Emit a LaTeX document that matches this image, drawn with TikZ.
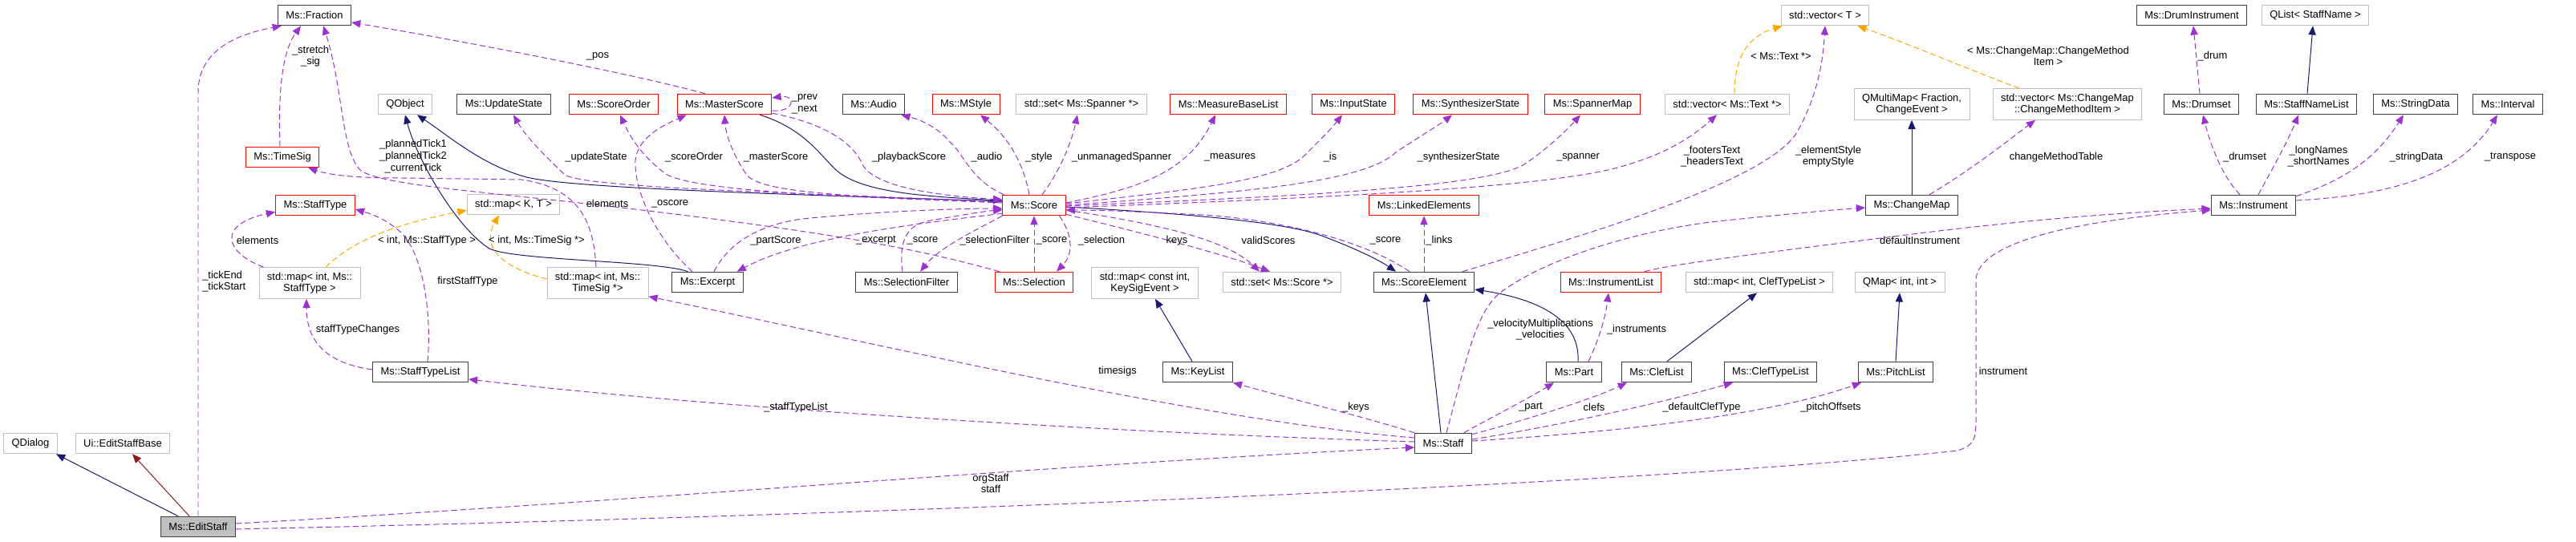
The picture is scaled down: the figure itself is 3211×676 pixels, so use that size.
\documentclass[tikz,border=0pt]{standalone}
\usepackage{fontspec}
\setmainfont{Liberation Sans}
\usetikzlibrary{calc, arrows.meta, positioning}
\definecolor{usepurple}{HTML}{9A32CD}
\definecolor{inhnavy}{HTML}{191970}
\definecolor{tmplorange}{HTML}{FFA500}
\definecolor{privred}{HTML}{8B1A1A}
\definecolor{boxgrey}{HTML}{BFBFBF}
\definecolor{boxdark}{HTML}{404040}

\begin{document}
\begin{tikzpicture}[x=0.25mm, y=-0.25mm,
  every node/.style={font=\fontsize{9.2}{10.4}\selectfont},
  box/.style={rectangle, draw, fill=white, line width=0.7pt, inner xsep=2.5mm, inner ysep=1.5mm, minimum height=6.4mm, align=center},
  cls/.style={box, draw=boxdark},
  trunc/.style={box, draw=red},
  ext/.style={box, draw=boxgrey},
  lbl/.style={inner sep=0pt, align=center},
  member/.style={draw=usepurple, line width=0.7pt, dash pattern=on 1.8mm off 1mm, -{Triangle[length=2.8mm, width=2.3mm]}},
  inherit/.style={draw=inhnavy, line width=0.7pt, -{Triangle[length=2.8mm, width=2.3mm]}},
  privinh/.style={draw=privred, line width=0.7pt, -{Triangle[length=2.8mm, width=2.3mm]}},
  templ/.style={draw=tmplorange, line width=0.7pt, dash pattern=on 1.8mm off 1mm, -{Triangle[length=2.8mm, width=2.3mm]}}
]
\useasboundingbox (0,0) rectangle (3211,676);

% classes
\node[cls] (Fraction) at (392,19) {Ms::Fraction};
\node[ext] (QObject) at (505,130) {QObject};
\node[trunc] (TimeSig) at (352,196) {Ms::TimeSig};
\node[trunc] (StaffType) at (393,256) {Ms::StaffType};
\node[ext] (MapStaffType) at (386,353) {std::map< int, Ms::\\StaffType >};
\node[cls] (UpdateState) at (628,130) {Ms::UpdateState};
\node[trunc] (ScoreOrder) at (765,130) {Ms::ScoreOrder};
\node[trunc] (MasterScore) at (903,130) {Ms::MasterScore};
\node[cls] (Audio) at (1089,130) {Ms::Audio};
\node[ext] (MapKT) at (640,255) {std::map< K, T >};
\node[ext] (MapTimeSig) at (745,353) {std::map< int, Ms::\\TimeSig *>};
\node[cls] (Excerpt) at (882,352) {Ms::Excerpt};
\node[trunc] (MStyle) at (1204,130) {Ms::MStyle};
\node[ext] (SetSpanner) at (1348,130) {std::set< Ms::Spanner *>};
\node[trunc] (MeasureBaseList) at (1531,130) {Ms::MeasureBaseList};
\node[trunc] (Score) at (1289,256) {Ms::Score};
\node[cls] (SelectionFilter) at (1130,352) {Ms::SelectionFilter};
\node[trunc] (Selection) at (1289,352) {Ms::Selection};
\node[ext] (MapKeySig) at (1427,353) {std::map< const int,\\KeySigEvent >};
\node[ext] (SetScore) at (1598,352) {std::set< Ms::Score *>};
\node[trunc] (InputState) at (1687,130) {Ms::InputState};
\node[trunc] (SynthState) at (1833,130) {Ms::SynthesizerState};
\node[trunc] (SpannerMap) at (1985,130) {Ms::SpannerMap};
\node[ext] (VecText) at (2153,130) {std::vector< Ms::Text *>};
\node[trunc] (LinkedElements) at (1775,256) {Ms::LinkedElements};
\node[cls] (ScoreElement) at (1775,352) {Ms::ScoreElement};
\node[ext] (VecT) at (2275,19) {std::vector< T >};
\node[ext] (MultiMap) at (2383,130) {QMultiMap< Fraction,\\ChangeEvent >};
\node[ext] (VecMethod) at (2577,130) {std::vector< Ms::ChangeMap\\::ChangeMethodItem >};
\node[cls] (ChangeMap) at (2383,256) {Ms::ChangeMap};
\node[cls] (DrumInstrument) at (2732,19) {Ms::DrumInstrument};
\node[ext] (QListName) at (2886,19) {QList< StaffName >};
\node[cls] (Drumset) at (2744,130) {Ms::Drumset};
\node[cls] (StaffNameList) at (2875,130) {Ms::StaffNameList};
\node[cls] (StringData) at (3011,130) {Ms::StringData};
\node[cls] (Interval) at (3126,130) {Ms::Interval};
\node[cls] (Instrument) at (2809,256) {Ms::Instrument};
\node[ext] (QDialog) at (38,553) {QDialog};
\node[ext] (EditStaffBase) at (153,553) {Ui::EditStaffBase};
\node[cls, fill=boxgrey] (EditStaff) at (247,657) {Ms::EditStaff};
\node[cls] (StaffTypeList) at (524,464) {Ms::StaffTypeList};
\node[cls] (Staff) at (1799,553) {Ms::Staff};
\node[cls] (Part) at (1962,464) {Ms::Part};
\node[trunc] (InstrumentList) at (2008,352) {Ms::InstrumentList};
\node[cls] (ClefList) at (2065,464) {Ms::ClefList};
\node[ext] (MapClef) at (2193,352) {std::map< int, ClefTypeList >};
\node[ext] (QMapInt) at (2368,352) {QMap< int, int >};
\node[cls] (ClefTypeList) at (2207,464) {Ms::ClefTypeList};
\node[cls] (PitchList) at (2363,464) {Ms::PitchList};
\node[cls] (KeyList) at (1493,464) {Ms::KeyList};

% inheritance
\draw[inherit] ($(EditStaff.north)+(-25,0)$) -- ($(QDialog.south)+(32,0)$);
\draw[privinh] ($(EditStaff.north)+(-11,0)$) -- ($(EditStaffBase.south)+(12,0)$);
\draw[inherit] ($(Excerpt.north west)+(20,0)$) .. controls (820,325) and (640,325) .. (610,310)
  .. controls (570,285) and (520,200) .. (QObject.south);
\draw[inherit] ($(Score.west)+(0,-5)$) .. controls (1000,243) and (700,235) .. (653,220)
  .. controls (600,205) and (560,170) .. ($(QObject.south)+(15,0)$);
\draw[inherit] ($(MasterScore.south east)+(-15,0)$) .. controls (1000,160) and (1020,190) .. (1040,210)
  .. controls (1070,240) and (1150,245) .. ($(Score.west)+(0,-6)$);
\draw[inherit] ($(Score.east)+(0,2)$) .. controls (1450,265) and (1600,275) .. (1650,295)
  .. controls (1690,310) and (1720,325) .. ($(ScoreElement.north)+(-35,0)$);
\draw[inherit] ($(Staff.north)+(-3,0)$) -- ($(ScoreElement.south)+(2,0)$);
\draw[inherit] ($(Part.north)+(5,0)$) .. controls (1970,395) and (1910,372) .. ($(ScoreElement.east)+(0,9)$);
\draw[inherit] ($(KeyList.north)+(-7,0)$) -- ($(MapKeySig.south)+(13,0)$);
\draw[inherit] ($(ClefList.north)+(13,0)$) -- ($(MapClef.south)+(-3,0)$);
\draw[inherit] (PitchList.north) -- (QMapInt.south);
\draw[inherit] (ChangeMap.north) -- (MultiMap.south);
\draw[inherit] ($(StaffNameList.north)+(1,0)$) -- ($(QListName.south)+(-3,0)$);

% template instances
\draw[templ] ($(MapStaffType.north)+(20,0)$) .. controls (440,300) and (490,280) .. ($(MapKT.south west)+(0,-6)$);
\draw[templ] ($(MapTimeSig.west)+(0,-5)$) .. controls (630,335) and (598,310) .. ($(MapKT.south)+(-18,0)$);
\draw[templ] ($(VecText.north)+(9,0)$) .. controls (2162,70) and (2180,45) .. ($(VecT.south west)+(2,0)$);
\draw[templ] ($(VecMethod.north)+(-60,0)$) .. controls (2450,85) and (2380,55) .. ($(VecT.south east)+(-15,0)$);
\node[lbl] (lStaffTypeArg) at (532,300) {< int, Ms::StaffType >};
\node[lbl] (lTimeSigArg) at (669,300) {< int, Ms::TimeSig *>};
\node[lbl] (lTextArg) at (2220,70) {< Ms::Text *>};
\node[lbl] (lMethodArg) at (2553,70) {< Ms::ChangeMap::ChangeMethod\\Item >};

% members
\draw[member] (EditStaff.north) -- (247,115) .. controls (247,60) and (300,42) .. ($(Fraction.south west)+(5,0)$);
\node[lbl, anchor=west, align=left] (lTick) at (252,351) {\_tickEnd\\\_tickStart};
\draw[member] ($(TimeSig.north)+(-3,0)$) .. controls (346,100) and (355,60) .. ($(Fraction.south)+(-17,0)$);
\node[lbl] (lStretch) at (387,70) {\_stretch\\\_sig};
\draw[member] ($(Selection.north west)+(6,0)$) .. controls (1150,312) and (1050,292) .. (800,262)
  .. controls (600,238) and (480,232) .. (450,213) .. controls (425,190) and (428,110) .. ($(Fraction.south)+(11,0)$);
\node[lbl] (lPlanned) at (515,195) {\_plannedTick1\\\_plannedTick2\\\_currentTick};
\draw[member] ($(MapTimeSig.north)+(-2,0)$) .. controls (740,280) and (725,235) .. (650,224)
  -- (500,222) .. controls (440,222) and (410,218) .. ($(TimeSig.south east)+(-14,0)$);
\node[lbl] (lElemTime) at (757,254) {elements};
\draw[member] ($(MapStaffType.north west)+(6,0)$) .. controls (280,315) and (270,280) .. ($(StaffType.south west)+(0,-5)$);
\node[lbl] (lElemStaff) at (321,300) {elements};
\draw[member] ($(MasterScore.north west)+(35,0)$) .. controls (800,95) and (600,55) .. ($(Fraction.east)+(0,9)$);
\node[lbl] (lPos) at (745,70) {\_pos};
\draw[member] ($(Score.west)+(0,-4)$) .. controls (1000,240) and (720,235) .. (703,217)
  .. controls (680,195) and (655,170) .. ($(UpdateState.south)+(12,0)$);
\node[lbl] (lUpdate) at (743,196) {\_updateState};
\draw[member] ($(Score.west)+(0,-4)$) .. controls (1000,245) and (860,235) .. (830,217)
  .. controls (800,195) and (785,170) .. ($(ScoreOrder.south)+(8,0)$);
\node[lbl] (lOrder) at (865,196) {\_scoreOrder};
\draw[member] ($(Score.west)+(0,-3)$) .. controls (1050,245) and (945,240) .. (930,217)
  .. controls (915,195) and (905,170) .. (MasterScore.south);
\node[lbl] (lMaster) at (967,196) {\_masterScore};
\draw[member] ($(MasterScore.east)+(0,8)$) .. controls (992,140) and (992,118) .. ($(MasterScore.east)+(0,-8)$);
\node[lbl] (lPrev) at (1003,130) {\_prev\\\_next};
\draw[member] ($(MasterScore.south east)+(0,-2)$) .. controls (1010,150) and (1060,170) .. (1075,205)
  .. controls (1090,235) and (1180,245) .. ($(Score.west)+(0,-7)$);
\node[lbl] (lPlayback) at (1133,196) {\_playbackScore};
\draw[member] ($(Score.north west)+(2,0)$) .. controls (1210,225) and (1200,190) .. (1185,178)
  .. controls (1170,160) and (1150,150) .. ($(Audio.south east)+(-5,0)$);
\node[lbl] (lAudio) at (1230,196) {\_audio};
\draw[member] ($(Score.north)+(-6,0)$) .. controls (1275,200) and (1255,170) .. ($(MStyle.south)+(18,0)$);
\node[lbl] (lStyle) at (1295,196) {\_style};
\draw[member] ($(Score.north)+(10,0)$) .. controls (1320,215) and (1335,180) .. ($(SetSpanner.south)+(-5,0)$);
\node[lbl] (lUnmanaged) at (1398,196) {\_unmanagedSpanner};
\draw[member] ($(Score.east)+(0,-3)$) .. controls (1420,235) and (1480,215) .. ($(MeasureBaseList.south)+(-16,0)$);
\node[lbl] (lMeasures) at (1533,196) {\_measures};
\draw[member] ($(Score.east)+(0,-2)$) .. controls (1500,235) and (1600,225) .. (1630,190)
  .. controls (1650,170) and (1660,160) .. ($(InputState.south)+(-14,0)$);
\node[lbl] (lIs) at (1658,196) {\_is};
\draw[member] (Score.east) .. controls (1550,240) and (1700,228) .. (1740,190)
  .. controls (1770,170) and (1795,155) .. ($(SynthState.south)+(-23,0)$);
\node[lbl] (lSynth) at (1818,196) {\_synthesizerState};
\draw[member] ($(Score.east)+(0,1)$) .. controls (1600,245) and (1850,235) .. (1900,205)
  .. controls (1930,185) and (1955,160) .. ($(SpannerMap.south)+(-15,0)$);
\node[lbl] (lSpanner) at (1967,196) {\_spanner};
\draw[member] ($(Score.east)+(0,3)$) .. controls (1700,245) and (1950,232) .. (2030,205)
  .. controls (2080,190) and (2110,170) .. ($(VecText.south)+(-13,0)$);
\node[lbl] (lFooters) at (2134,195) {\_footersText\\\_headersText};
\draw[member] ($(ScoreElement.north)+(48,0)$) .. controls (1950,300) and (2200,230) .. (2240,165)
  .. controls (2265,120) and (2272,80) .. (VecT.south);
\node[lbl] (lElemStyle) at (2279,195) {\_elementStyle\\emptyStyle};
\draw[member] ($(ChangeMap.north)+(22,0)$) .. controls (2460,210) and (2510,170) .. ($(VecMethod.south)+(-40,0)$);
\node[lbl] (lMethodTable) at (2563,196) {changeMethodTable};
\draw[member] ($(Staff.north)+(4,0)$) .. controls (1830,440) and (1840,390) .. (1870,365)
  .. controls (1930,320) and (2050,285) .. (2150,275) .. controls (2220,268) and (2280,262) .. ($(ChangeMap.west)+(0,3)$);
\node[lbl] (lVelocity) at (1920,411) {\_velocityMultiplications\\\_velocities};
\draw[member] ($(InstrumentList.north)+(42,0)$) .. controls (2080,330) and (2200,315) .. (2400,290)
  .. controls (2550,272) and (2650,265) .. ($(Instrument.west)+(0,4)$);
\node[lbl] (lDefaultInstr) at (2393,300) {defaultInstrument};
\draw[member] ($(EditStaff.east)+(0,3)$) .. controls (1200,640) and (2100,600) .. (2440,562)
  .. controls (2463,555) and (2463,545) .. (2463,520) -- (2463,350)
  .. controls (2463,310) and (2550,278) .. ($(Instrument.west)+(0,6)$);
\node[lbl] (lInstrument) at (2497,463) {instrument};
\draw[member] ($(EditStaff.east)+(0,-4)$) .. controls (800,625) and (1300,580) .. ($(Staff.west)+(0,5)$);
\node[lbl] (lOrgStaff) at (1235,603) {orgStaff\\staff};
\draw[member] (Staff.north west) .. controls (1700,520) and (1600,495) .. (KeyList.south east);
\node[lbl] (lKeys) at (1690,508) {\_keys};
\draw[member] ($(Staff.west)+(0,-7)$) .. controls (1500,525) and (1100,430) .. ($(MapTimeSig.south east)+(0,-3)$);
\node[lbl] (lTimesigs) at (1393,463) {timesigs};
\draw[member] ($(Staff.west)+(0,-2)$) .. controls (1400,540) and (900,510) .. ($(StaffTypeList.east)+(0,9)$);
\node[lbl] (lStaffTypeList) at (992,508) {\_staffTypeList};
\draw[member] ($(StaffTypeList.north)+(9,0)$) .. controls (538,400) and (530,320) .. (500,290)
  .. controls (480,272) and (460,266) .. ($(StaffType.east)+(0,5)$);
\node[lbl] (lFirstType) at (583,351) {firstStaffType};
\draw[member] ($(StaffTypeList.west)+(0,-3)$) .. controls (400,452) and (382,420) .. ($(MapStaffType.south)+(-4,0)$);
\node[lbl] (lTypeChanges) at (446,411) {staffTypeChanges};
\draw[member] ($(Part.north)+(18,0)$) .. controls (1995,420) and (2002,390) .. ($(InstrumentList.south)+(-3,0)$);
\node[lbl] (lInstruments) at (2040,411) {\_instruments};
\draw[member] ($(Staff.north east)+(-10,0)$) .. controls (1860,520) and (1900,500) .. ($(Part.south)+(-25,0)$);
\node[lbl] (lPart) at (1908,508) {\_part};
\draw[member] ($(Staff.north east)+(0,2)$) .. controls (1880,530) and (1980,500) .. ($(ClefList.south)+(-37,0)$);
\node[lbl] (lClefs) at (1987,508) {clefs};
\draw[member] ($(Staff.east)+(0,-5)$) .. controls (1950,530) and (2080,500) .. ($(ClefTypeList.south)+(-47,0)$);
\node[lbl] (lDefaultClef) at (2121,508) {\_defaultClefType};
\draw[member] ($(Staff.east)+(0,-3)$) .. controls (2000,540) and (2200,520) .. ($(PitchList.south)+(-43,0)$);
\node[lbl] (lPitch) at (2282,508) {\_pitchOffsets};
\draw[member] ($(Instrument.north)+(-17,0)$) .. controls (2770,220) and (2755,180) .. ($(Drumset.south)+(2,0)$);
\node[lbl] (lDrumset) at (2798,196) {\_drumset};
\draw[member] ($(Drumset.north)+(-2,0)$) -- ($(DrumInstrument.south)+(2,0)$);
\node[lbl] (lDrum) at (2758,70) {\_drum};
\draw[member] ($(Instrument.north)+(6,0)$) .. controls (2830,215) and (2850,180) .. ($(StaffNameList.south)+(-10,0)$);
\node[lbl] (lNames) at (2890,195) {\_longNames\\\_shortNames};
\draw[member] ($(Instrument.north east)+(0,2)$) .. controls (2920,225) and (2960,200) .. ($(StringData.south)+(-15,0)$);
\node[lbl] (lStringData) at (3012,196) {\_stringData};
\draw[member] ($(Instrument.east)+(0,-6)$) .. controls (2950,245) and (3060,230) .. ($(Interval.south)+(-13,0)$);
\node[lbl] (lTranspose) at (3129,196) {\_transpose};
\draw[member] ($(Score.south west)+(0,-3)$) .. controls (1150,278) and (1000,295) .. ($(Excerpt.north east)+(-8,0)$);
\node[lbl] (lExcerpt) at (1092,300) {\_excerpt};
\draw[member] ($(Excerpt.north)+(8,0)$) .. controls (910,300) and (950,280) .. (1000,273)
  .. controls (1100,263) and (1200,260) .. ($(Score.west)+(0,4)$);
\node[lbl] (lPartScore) at (967,300) {\_partScore};
\draw[member] ($(Excerpt.north)+(-19,0)$) .. controls (820,300) and (790,240) .. (792,200)
  .. controls (795,170) and (830,155) .. ($(MasterScore.south west)+(12,0)$);
\node[lbl] (lOscore) at (835,254) {\_oscore};
\draw[member] (Score.south west) .. controls (1210,290) and (1170,310) .. ($(SelectionFilter.north)+(17,0)$);
\node[lbl] (lSelFilter) at (1240,300) {\_selectionFilter};
\draw[member] ($(SelectionFilter.north)+(-5,0)$) .. controls (1120,300) and (1130,280) .. (1160,275)
  .. controls (1200,268) and (1230,263) .. ($(Score.west)+(0,6)$);
\node[lbl] (lScoreA) at (1150,300) {\_score};
\draw[member] (Selection.north) -- (Score.south);
\node[lbl] (lScoreB) at (1311,300) {\_score};
\draw[member] ($(Score.south east)+(-8,0)$) .. controls (1335,290) and (1340,315) .. ($(Selection.north)+(28,0)$);
\node[lbl] (lSelection) at (1373,300) {\_selection};
\draw[member] ($(Score.south east)+(0,-2)$) .. controls (1420,290) and (1520,315) .. ($(SetScore.north)+(-15,0)$);
\node[lbl] (lKeysSet) at (1467,300) {keys};
\draw[member] ($(Score.east)+(0,6)$) .. controls (1450,280) and (1530,300) .. ($(SetScore.north)+(-28,0)$);
\node[lbl] (lValid) at (1581,300) {validScores};
\draw[member] ($(ScoreElement.north)+(-18,0)$) .. controls (1700,300) and (1600,275) .. (1500,268)
  .. controls (1420,264) and (1370,262) .. ($(Score.east)+(0,6)$);
\node[lbl] (lScoreC) at (1727,300) {\_score};
\draw[member] (ScoreElement.north) -- (LinkedElements.south);
\node[lbl] (lLinks) at (1794,300) {\_links};
\end{tikzpicture}
\end{document}
